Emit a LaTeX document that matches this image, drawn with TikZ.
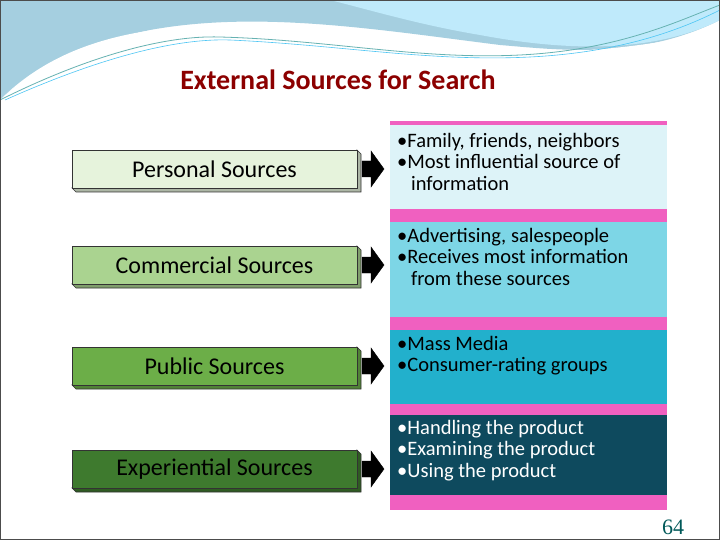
\documentclass[tikz,border=0pt]{standalone}
\usepackage{fontspec}
\setmainfont{Carlito}
\newfontfamily\numfont{Liberation Serif}
\definecolor{cp}{HTML}{E6F3DC}
\definecolor{cc}{HTML}{AAD390}
\definecolor{cu}{HTML}{6CAE48}
\definecolor{ce}{HTML}{3E7A2E}
\definecolor{b1}{HTML}{DDF3F8}
\definecolor{b2}{HTML}{7DD6E6}
\definecolor{b3}{HTML}{22B0CC}
\definecolor{b4}{HTML}{0E4A5E}
\definecolor{pk}{HTML}{F060C0}
\begin{document}
\begin{tikzpicture}[x=1pt,y=-1pt,
  bar/.style={draw=black!80,line width=0.7pt},
  info/.style={anchor=north west,align=left,font=\fontsize{20.5}{21.5}\selectfont,inner sep=0pt},
  blk/.style={fill=black,draw=black}]
\useasboundingbox (0,0) rectangle (720,540);
\fill[white] (0,0) rectangle (720,540);
% header waves
\fill[cyan!40!teal!40] (0,0) -- (720,0) -- (720,20) .. controls (640,60) and (560,50) .. (500,45) .. controls (380,30) and (260,10) .. (150,30) .. controls (80,45) and (30,70) .. (0,100) -- cycle;
\fill[cyan!25] (330,0) -- (720,0) -- (720,20) .. controls (650,55) and (560,50) .. (480,35) .. controls (420,25) and (370,10) .. (330,0) -- cycle;
\fill[white] (0,100) .. controls (40,60) and (100,30) .. (200,26) .. controls (300,22) and (400,45) .. (500,52) .. controls (600,55) and (680,40) .. (720,30) -- (720,60) .. controls (660,50) and (560,60) .. (480,55) .. controls (380,48) and (260,30) .. (150,45) .. controls (80,55) and (30,70) .. (0,100) -- cycle;
\draw[teal!60,line width=0.8pt] (0,100) .. controls (80,60) and (160,35) .. (220,37) .. controls (330,40) and (420,60) .. (520,55) .. controls (620,50) and (680,20) .. (720,5);
\draw[cyan!70,line width=0.6pt] (5,100) .. controls (90,62) and (170,38) .. (230,40) .. controls (340,45) and (430,62) .. (530,57) .. controls (630,52) and (690,25) .. (720,10);
\draw[black!70,line width=1pt] (0.5,0.5) rectangle (719.5,539.5);
% title
\node[font=\bfseries\fontsize{28}{32}\selectfont,text=red!55!black] (title) at (338,80) {External Sources for Search};
% right column
\fill[pk] (390,121) rectangle (667,510);
\fill[b1] (390,125) rectangle (667,209);
\fill[b2] (390,222) rectangle (667,317);
\fill[b3] (390,330) rectangle (667,404);
\fill[b4] (390,415) rectangle (667,495);
\node[info] (r1) at (397,133) {•Family, friends, neighbors\\•Most influential source of\\\ \ \ information};
\node[info] (r2) at (397,228) {•Advertising, salespeople\\•Receives most information\\\ \ \ from these sources};
\node[info] (r3) at (397,336) {•Mass Media\\•Consumer-rating groups};
\node[info,text=white] (r4) at (397,420) {•Handling the product\\•Examining the product\\•Using the product};
% left bars
\foreach \n/\y/\c/\t in {p/169/cp/Personal Sources,c/265/cc/Commercial Sources,u/366/cu/Public Sources,e/469/ce/Experiential Sources}{
  \fill[fill=\c!75!black,draw=black!80,line width=0.6pt] (72,\y+19) -- (76,\y+23) -- (361,\y+23) -- (361,\y-15) -- (357,\y-19) -- (357,\y+19) -- cycle;
  \node[bar,fill=\c,minimum width=285pt,minimum height=38pt,anchor=center,font=\fontsize{24}{26}\selectfont] (\n) at (214.5,\y) {\t};
  \fill[blk] (362,\y-8) -- (371,\y-8) -- (371,\y-18) -- (384,\y) -- (371,\y+18) -- (371,\y+8) -- (362,\y+8) -- cycle;
}
\node[font=\numfont\fontsize{22}{24}\selectfont,text=teal!70!black] (num) at (673,527) {64};
\end{tikzpicture}
\end{document}
